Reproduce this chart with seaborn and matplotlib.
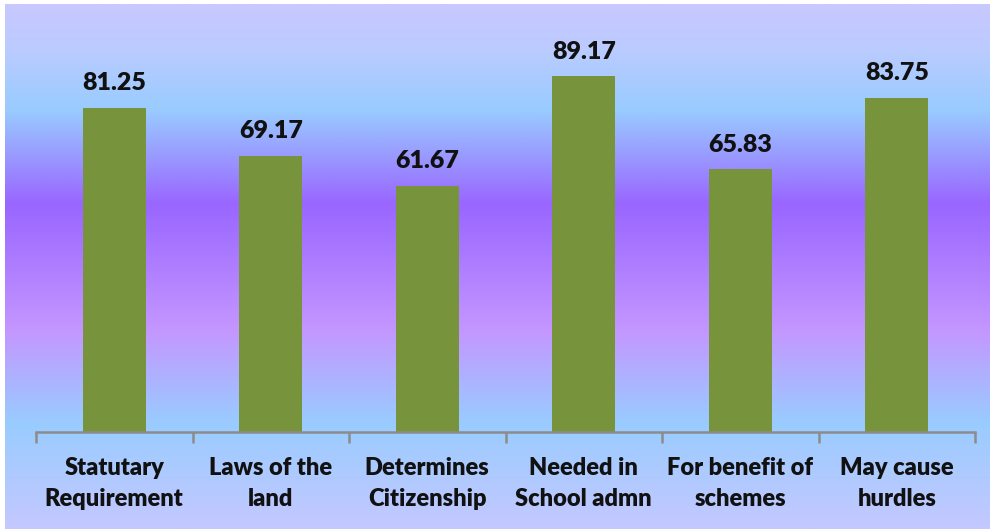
import numpy as np
import pandas as pd
import matplotlib
matplotlib.use("Agg")
import matplotlib.pyplot as plt
from matplotlib.colors import LinearSegmentedColormap
import seaborn as sns

categories = ["Statutary\nRequirement", "Laws of the\nland", "Determines\nCitizenship",
              "Needed in\nSchool admn", "For benefit of\nschemes", "May cause\nhurdles"]
values = [81.25, 69.17, 61.67, 89.17, 65.83, 83.75]

df = pd.DataFrame({"category": categories, "value": values})

sns.set_style("white")
plt.rcParams["font.family"] = ["Lato", "DejaVu Sans"]

fig = plt.figure(figsize=(9.9, 5.29), dpi=100)

# gradient background panel
bg = fig.add_axes([5 / 990, 0, 985 / 990, 525 / 529])
stops = [(0.0, "#c8c8ff"), (0.08, "#bccbff"), (0.2, "#99ccff"),
         (0.38, "#9966ff"), (0.62, "#c496ff"), (0.8, "#99ccff"), (1.0, "#c4c8ff")]
cmap = LinearSegmentedColormap.from_list("bg", stops)
grad = np.linspace(0, 1, 256).reshape(-1, 1)
bg.imshow(grad, aspect="auto", cmap=cmap, extent=[0, 1, 1, 0])
bg.set_axis_off()

ax = fig.add_axes([36 / 990, 97 / 529, 939 / 990, 399 / 529])
ax.patch.set_alpha(0)
sns.barplot(data=df, x="category", y="value", color="#77933c", saturation=1,
            width=0.4, linewidth=0, edgecolor="none", ax=ax)
ax.set_ylim(0, 100)
ax.set_xlim(-0.5, len(categories) - 0.5)

for i, v in enumerate(values):
    ax.text(i, v + 3.4, f"{v:.2f}", ha="center", va="bottom",
            fontsize=18, fontweight="heavy", color="#111111")

for s in ["top", "right", "left"]:
    ax.spines[s].set_visible(False)
ax.spines["bottom"].set_color("#8c8c8c")
ax.spines["bottom"].set_linewidth(1.8)
ax.set_yticks([])
ax.set_xticks([])
ax.set_xticks(np.arange(-0.5, len(categories)), minor=True)
ax.tick_params(axis="x", which="minor", direction="out", length=8, width=1.8,
               color="#8c8c8c", bottom=True)
ax.set_xticks(np.arange(len(categories)))
ax.set_xticklabels(categories, fontsize=17, fontweight="heavy", color="#111111",
                   linespacing=1.5)
ax.tick_params(axis="x", which="major", length=0, pad=18)
ax.set_xlabel("")
ax.set_ylabel("")

fig.savefig("out.png", dpi=100)
